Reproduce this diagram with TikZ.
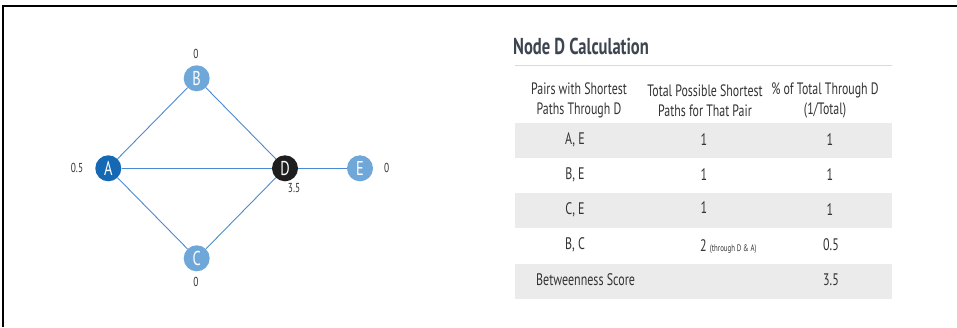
\documentclass[tikz,border=0pt]{standalone}
\usepackage{fontspec}
\setmainfont[FakeStretch=0.72]{PT Sans}
\definecolor{lightnode}{HTML}{6FA8D8}
\definecolor{darknode}{HTML}{1468B4}
\definecolor{blacknode}{HTML}{1E1E1E}
\definecolor{edgeblue}{HTML}{4A8AD2}
\definecolor{rowgray}{HTML}{EBEBEB}
\definecolor{rulegray}{HTML}{DADADA}
\definecolor{txt}{HTML}{333333}
\definecolor{titlec}{HTML}{3C4550}
\begin{document}
\begin{tikzpicture}[x=1pt,y=-1pt,
  gnode/.style={circle,minimum size=26pt,inner sep=0pt,text=white,font=\fontsize{20}{20}\selectfont},
  light/.style={gnode,fill=lightnode},
  score/.style={text=txt,font=\fontsize{13}{13}\selectfont,inner sep=0pt},
  edge/.style={draw=edgeblue,line width=0.9pt},
  cell/.style={text=txt,font=\fontsize{16.7}{16.7}\selectfont,inner sep=0pt,anchor=center},
  hcell/.style={text=txt,font=\fontsize{16.5}{19.5}\selectfont,inner sep=0pt,align=center,anchor=center},
  shade/.style={fill=rowgray,draw=none}
]
\useasboundingbox (0,0) rectangle (957,327);
\fill[white] (0,0) rectangle (957,327);
\draw[line width=1.2pt,black] (3,327) -- (3,6) -- (957,6);

% graph
\node[gnode,fill=darknode] (A) at (108.3,168.3) {A};
\node[light] (B) at (196.7,78.3) {B};
\node[light] (C) at (196.7,258.3) {C};
\node[gnode,fill=blacknode] (D) at (285,168.3) {D};
\node[light] (E) at (360,168.3) {E};
\draw[edge] (A) -- (B);
\draw[edge] (A) -- (C);
\draw[edge] (A) -- (D);
\draw[edge] (B) -- (D);
\draw[edge] (C) -- (D);
\draw[edge] (D) -- (E);
\node[score] (sB) at (196,54) {0};
\node[score] (sA) at (77,168.3) {0.5};
\node[score] (sE) at (386.7,168.3) {0};
\node[score] (sD) at (294,188.3) {3.5};
\node[score] (sC) at (196,282) {0};

% table
\node[anchor=west,inner sep=0pt,text=titlec,font=\bfseries\fontsize{23}{23}\selectfont] (title) at (513,46) {Node D Calculation};
\draw[rulegray,line width=0.8pt] (515,65) -- (892,65);
\fill[shade] (515,123) rectangle (892,158);
\fill[shade] (515,193) rectangle (892,228);
\fill[shade] (515,264) rectangle (892,298.5);

\node[hcell] (h1) at (579,100.5) {Pairs with Shortest\\Paths Through D};
\node[hcell] (h2) at (705,100.5) {Total Possible Shortest\\Paths for That Pair};
\node[hcell] (h3) at (825,100.5) {\% of Total Through D\\(1/Total)};

\node[cell] (r1a) at (575,140) {A, E};
\node[cell] (r1b) at (704,140) {1};
\node[cell] (r1c) at (830,140) {1};
\node[cell] (r2a) at (575,175) {B, E};
\node[cell] (r2b) at (704,175) {1};
\node[cell] (r2c) at (830,175) {1};
\node[cell] (r3a) at (575,210) {C, E};
\node[cell] (r3b) at (704,208) {1};
\node[cell] (r3c) at (830,210) {1};
\node[cell] (r4a) at (575,245) {B, C};
\node[cell,anchor=base west] (r4b) at (700,251) {2 {\fontsize{9.5}{9.5}\selectfont(through D \& A)}};
\node[cell] (r4c) at (831,245) {0.5};
\node[cell,anchor=west] (r5a) at (536,280) {Betweenness Score};
\node[cell] (r5c) at (831,280) {3.5};
\end{tikzpicture}
\end{document}
